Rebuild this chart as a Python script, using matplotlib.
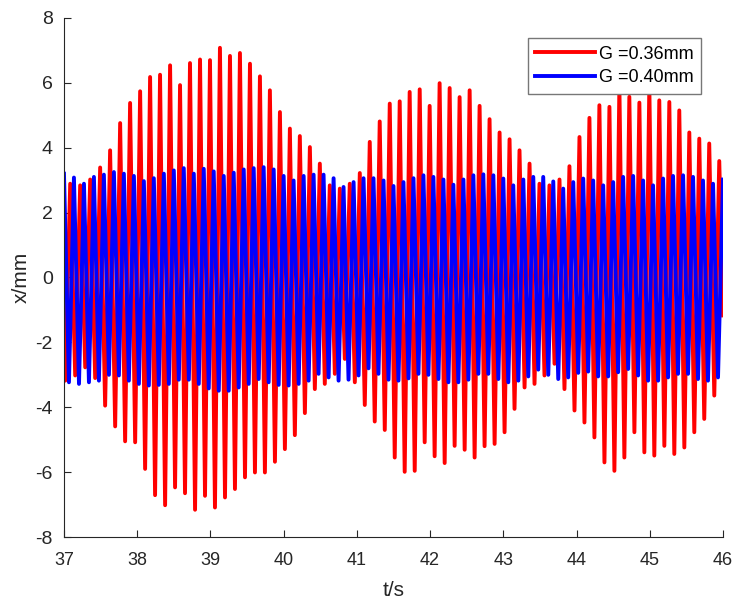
import numpy as np
import matplotlib
matplotlib.use('Agg')
import matplotlib.pyplot as plt
from matplotlib import font_manager

# G = 0.36 mm: extrema (peaks / troughs of each cycle)
red_start = (37.0, -1.20)
red_end = (46.0, -1.17)
red_peak_t = [37.085, 37.221, 37.358, 37.494, 37.630, 37.767, 37.903, 38.040, 38.176, 38.312,
              38.449, 38.585, 38.721, 38.858, 38.994, 39.130, 39.267, 39.403, 39.540, 39.676,
              39.812, 39.949, 40.085, 40.221, 40.358, 40.494, 40.630, 40.767, 40.903, 41.040,
              41.176, 41.312, 41.449, 41.585, 41.721, 41.858, 41.994, 42.130, 42.267, 42.403,
              42.540, 42.676, 42.812, 42.949, 43.085, 43.221, 43.358, 43.494, 43.630, 43.767,
              43.903, 44.040, 44.176, 44.312, 44.449, 44.585, 44.721, 44.858, 44.994, 45.130,
              45.267, 45.403, 45.540, 45.676, 45.812, 45.949]
red_peak_x = [2.89, 2.84, 3.02, 3.39, 3.92, 4.76, 5.38, 5.74, 6.18, 6.25,
              6.54, 5.93, 6.61, 6.72, 6.70, 7.08, 6.83, 6.92, 6.59, 6.20,
              5.77, 5.10, 4.59, 4.36, 4.02, 3.51, 2.84, 2.74, 2.89, 3.22,
              4.18, 4.81, 5.36, 5.43, 5.72, 5.80, 5.29, 5.99, 5.84, 5.56,
              5.77, 5.29, 4.88, 4.47, 4.26, 3.92, 3.51, 2.89, 2.84, 3.02,
              3.43, 4.33, 4.92, 5.31, 5.26, 5.90, 5.57, 5.39, 5.90, 5.46,
              5.41, 5.15, 4.47, 4.28, 4.13, 3.59]
red_trough_t = [37.017, 37.153, 37.290, 37.426, 37.562, 37.699, 37.835, 37.972, 38.108, 38.244,
                38.381, 38.517, 38.653, 38.790, 38.926, 39.062, 39.199, 39.335, 39.472, 39.608,
                39.744, 39.881, 40.017, 40.153, 40.290, 40.426, 40.562, 40.699, 40.835, 40.972,
                41.108, 41.244, 41.381, 41.517, 41.653, 41.790, 41.926, 42.062, 42.199, 42.335,
                42.472, 42.608, 42.744, 42.881, 43.017, 43.153, 43.290, 43.426, 43.562, 43.699,
                43.835, 43.972, 44.108, 44.244, 44.381, 44.517, 44.653, 44.790, 44.926, 45.062,
                45.199, 45.335, 45.472, 45.608, 45.744, 45.881]
red_trough_x = [-3.18, -3.02, -2.77, -3.10, -3.95, -4.59, -5.05, -5.08, -5.90, -6.71,
                -7.02, -6.47, -6.65, -7.16, -6.73, -7.09, -6.78, -6.52, -6.16, -6.01,
                -6.01, -5.68, -5.29, -4.86, -4.18, -3.44, -3.28, -2.97, -2.51, -3.23,
                -3.93, -4.44, -4.70, -5.55, -5.99, -5.96, -5.08, -5.51, -5.72, -5.19,
                -5.31, -5.55, -5.20, -5.13, -4.77, -4.05, -3.39, -3.28, -3.02, -2.66,
                -3.44, -4.10, -4.47, -4.93, -5.70, -5.96, -5.55, -4.77, -5.39, -5.49,
                -5.19, -5.44, -5.24, -4.77, -4.36, -3.64]

# G = 0.40 mm
blue_peak_t = [37.000, 37.136, 37.273, 37.409, 37.545, 37.682, 37.818, 37.955, 38.091, 38.227,
               38.364, 38.500, 38.636, 38.773, 38.909, 39.045, 39.182, 39.318, 39.455, 39.591,
               39.727, 39.864, 40.000, 40.136, 40.273, 40.409, 40.545, 40.682, 40.818, 40.955,
               41.091, 41.227, 41.364, 41.500, 41.636, 41.773, 41.909, 42.045, 42.182, 42.318,
               42.455, 42.591, 42.727, 42.864, 43.000, 43.136, 43.273, 43.409, 43.545, 43.682,
               43.818, 43.955, 44.091, 44.227, 44.364, 44.500, 44.636, 44.773, 44.909, 45.045,
               45.182, 45.318, 45.455, 45.591, 45.727, 45.864, 46.000]
blue_peak_x = [3.20, 3.08, 2.89, 3.10, 3.17, 3.25, 3.20, 3.13, 2.97, 3.06,
               3.20, 3.30, 3.37, 3.20, 3.35, 3.27, 3.13, 3.23, 3.33, 3.37,
               3.40, 3.33, 3.13, 2.99, 3.13, 3.17, 3.17, 3.06, 2.79, 2.94,
               3.06, 3.06, 2.99, 2.82, 2.94, 3.06, 3.15, 3.10, 3.02, 2.86,
               3.02, 3.15, 3.18, 3.15, 3.05, 2.84, 3.02, 3.10, 3.10, 2.96,
               2.74, 2.94, 3.05, 2.99, 2.84, 2.94, 3.10, 3.13, 2.99, 2.84,
               3.05, 3.13, 3.15, 3.10, 2.99, 2.89, 3.02]
blue_trough_t = [37.068, 37.205, 37.341, 37.477, 37.614, 37.750, 37.886, 38.023, 38.159, 38.295,
                 38.432, 38.568, 38.705, 38.841, 38.977, 39.114, 39.250, 39.386, 39.523, 39.659,
                 39.795, 39.932, 40.068, 40.205, 40.341, 40.477, 40.614, 40.750, 40.886, 41.023,
                 41.159, 41.295, 41.432, 41.568, 41.705, 41.841, 41.977, 42.114, 42.250, 42.386,
                 42.523, 42.659, 42.795, 42.932, 43.068, 43.205, 43.341, 43.477, 43.614, 43.750,
                 43.886, 44.023, 44.159, 44.295, 44.432, 44.568, 44.705, 44.841, 44.977, 45.114,
                 45.250, 45.386, 45.523, 45.659, 45.795, 45.932]
blue_trough_x = [-3.23, -3.28, -3.23, -3.18, -3.00, -3.02, -3.18, -3.28, -3.33, -3.31,
                 -3.28, -3.15, -3.15, -3.28, -3.42, -3.49, -3.49, -3.39, -3.28, -3.13,
                 -3.23, -3.31, -3.33, -3.28, -3.18, -2.97, -3.08, -3.18, -3.15, -3.02,
                 -2.80, -2.97, -3.15, -3.18, -3.11, -2.97, -3.00, -3.13, -3.23, -3.23,
                 -3.15, -2.97, -2.97, -3.13, -3.23, -3.18, -3.05, -2.84, -3.00, -3.13,
                 -3.08, -2.94, -2.90, -3.05, -3.05, -2.92, -2.82, -3.02, -3.18, -3.18,
                 -3.08, -2.97, -2.97, -3.13, -3.18, -3.08]

labels = ['G =0.36mm', 'G =0.40mm']
xticks = list(range(37, 47))
yticks = list(range(-8, 9, 2))

plt.rcParams['axes.unicode_minus'] = False
installed = {f.name for f in font_manager.fontManager.ttflist}
tick_font = 'Liberation Sans Narrow' if 'Liberation Sans Narrow' in installed else 'Liberation Sans'


def merge(t1, x1, t2, x2, start=None, end=None):
    pts = sorted(zip(t1 + t2, x1 + x2))
    if start:
        pts = [start] + pts
    if end:
        pts = pts + [end]
    return np.array([p[0] for p in pts]), np.array([p[1] for p in pts])


rt, rx = merge(red_trough_t, red_trough_x, red_peak_t, red_peak_x, red_start, red_end)
bt, bx = merge(blue_peak_t, blue_peak_x, blue_trough_t, blue_trough_x)

fig = plt.figure(figsize=(7.32, 5.99), dpi=100)
ax = fig.add_axes([0.0874, 0.1035, 0.9003, 0.8665])

ax.plot(rt, rx, color='#ff0000', lw=2.8, solid_joinstyle='round', label=labels[0])
ax.plot(bt, bx, color='#0000ff', lw=2.8, solid_joinstyle='round', label=labels[1])

ax.set_xlim(37, 46)
ax.set_ylim(-8, 8)
ax.set_xticks(xticks)
ax.set_yticks(yticks)
for s in ['top', 'right']:
    ax.spines[s].set_visible(False)
for s in ['left', 'bottom']:
    ax.spines[s].set_color('#262626')
    ax.spines[s].set_linewidth(0.8)
ax.tick_params(direction='in', length=5, width=0.8, color='#262626',
               labelsize=14, labelcolor='#262626', pad=8)
ax.tick_params(axis='x', labelsize=13, pad=10.5)
for lab in ax.get_xticklabels() + ax.get_yticklabels():
    lab.set_fontfamily(tick_font)

ax.set_xlabel('t/s', fontsize=15, family=tick_font, color='#262626', labelpad=9)
ax.set_ylabel('x/mm', fontsize=15, family=tick_font, color='#262626', labelpad=3)

leg = ax.legend(loc='upper right', bbox_to_anchor=(0.9666, 0.961),
                prop={'family': 'Liberation Sans', 'size': 13},
                fancybox=False, framealpha=1, edgecolor='#777777',
                handlelength=3.3, handletextpad=0.22, borderpad=0.42,
                labelspacing=0.35, borderaxespad=0)
leg.get_frame().set_linewidth(1.0)

fig.savefig('out.png', dpi=100)
